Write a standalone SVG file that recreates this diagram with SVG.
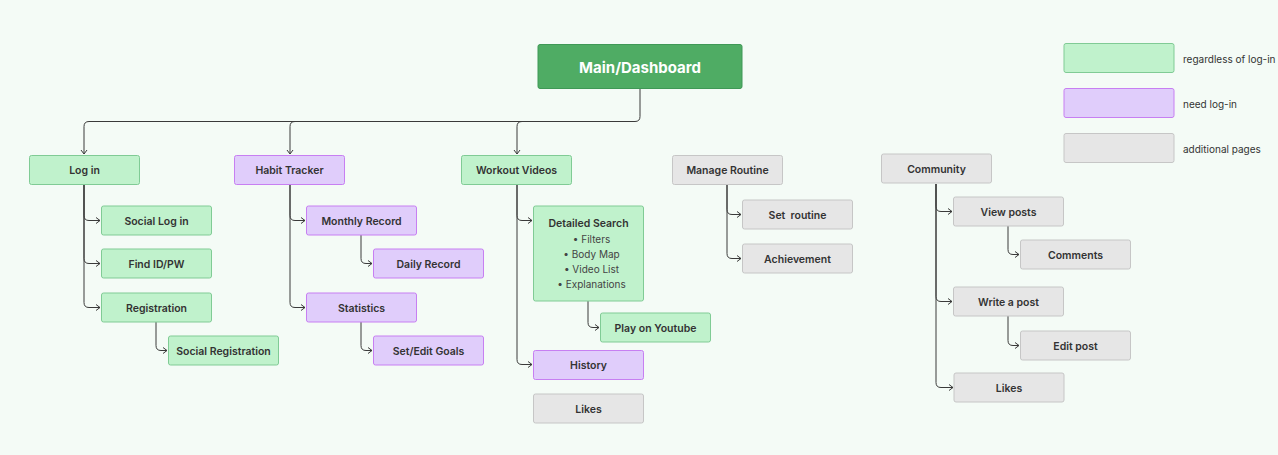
<svg xmlns="http://www.w3.org/2000/svg" width="1278" height="455" viewBox="0 0 1278 455">
<defs>
<style>
.bg{fill:#f4fbf6}
.g rect{fill:#c0f2cc;stroke:#80cb95;stroke-width:1}
.p rect{fill:#e0cdfb;stroke:#c77ff2;stroke-width:1}
.a rect{fill:#e6e6e6;stroke:#c6c6c6;stroke-width:1}
.m rect{fill:#4fac64;stroke:#3f9856;stroke-width:1}
text{font-family:Inter,"Noto Sans","Liberation Sans",sans-serif;text-anchor:middle;dominant-baseline:central}
.n text{font-size:10.5px;font-weight:600;fill:#333}
.m text{font-size:15px;font-weight:700;fill:#fff}
.n text.b{font-size:10px;font-weight:400;fill:#444}
.l{font-size:10px;font-weight:400;fill:#333;text-anchor:start}
#connectors path{fill:none;stroke:#3a3a3a;stroke-width:1}
</style>
<marker id="ar" markerWidth="8" markerHeight="8" refX="5" refY="4" orient="auto" markerUnits="userSpaceOnUse">
<path d="M1,1 L5,4 L1,7" fill="none" stroke="#3a3a3a" stroke-width="1"/>
</marker>
</defs>
<rect class="bg" x="0" y="0" width="1278" height="455"/>

<g id="connectors">
<path d="M640,89 V116.5 Q640,121.5 635,121.5 H89 Q84,121.5 84,126.5 V154" marker-end="url(#ar)"/>
<path d="M295,121.5 Q290,121.5 290,126.5 V154" marker-end="url(#ar)"/>
<path d="M522,121.5 Q517,121.5 517,126.5 V154" marker-end="url(#ar)"/>
<path d="M84,185 V215.5 Q84,220.5 89,220.5 H100" marker-end="url(#ar)"/>
<path d="M84,185 V258.5 Q84,263.5 89,263.5 H100" marker-end="url(#ar)"/>
<path d="M84,185 V302.5 Q84,307.5 89,307.5 H100" marker-end="url(#ar)"/>
<path d="M156,322 V345.5 Q156,350.5 161,350.5 H167" marker-end="url(#ar)"/>
<path d="M290,185 V215.5 Q290,220.5 295,220.5 H305" marker-end="url(#ar)"/>
<path d="M290,185 V302.5 Q290,307.5 295,307.5 H305" marker-end="url(#ar)"/>
<path d="M361,235 V258.5 Q361,263.5 366,263.5 H372" marker-end="url(#ar)"/>
<path d="M361,322 V345.5 Q361,350.5 366,350.5 H372" marker-end="url(#ar)"/>
<path d="M517,185 V215.5 Q517,220.5 522,220.5 H532" marker-end="url(#ar)"/>
<path d="M517,185 V359.5 Q517,364.5 522,364.5 H532" marker-end="url(#ar)"/>
<path d="M588,301 V322.5 Q588,327.5 593,327.5 H599" marker-end="url(#ar)"/>
<path d="M727,185 V209.5 Q727,214.5 732,214.5 H741" marker-end="url(#ar)"/>
<path d="M727,185 V253.5 Q727,258.5 732,258.5 H741" marker-end="url(#ar)"/>
<path d="M936,184 V206.5 Q936,211.5 941,211.5 H952" marker-end="url(#ar)"/>
<path d="M936,184 V296.5 Q936,301.5 941,301.5 H952" marker-end="url(#ar)"/>
<path d="M936,184 V382.5 Q936,387.5 941,387.5 H953" marker-end="url(#ar)"/>
<path d="M1008,226 V249.5 Q1008,254.5 1013,254.5 H1019" marker-end="url(#ar)"/>
<path d="M1008,316 V340.5 Q1008,345.5 1013,345.5 H1019" marker-end="url(#ar)"/>
</g>

<g id="main" class="m"><rect x="538" y="44.5" width="204" height="44" rx="2"/><text x="640" y="67">Main/Dashboard</text></g>

<g id="login" class="n g"><rect x="29.5" y="155.5" width="110" height="29" rx="2"/><text x="84.5" y="170.5">Log in</text></g>
<g id="social-login" class="n g"><rect x="101.5" y="206" width="110" height="29" rx="2"/><text x="156.5" y="221">Social Log in</text></g>
<g id="find-id" class="n g"><rect x="101.5" y="249" width="110" height="29" rx="2"/><text x="156.5" y="264">Find ID/PW</text></g>
<g id="registration" class="n g"><rect x="101.5" y="293" width="110" height="29" rx="2"/><text x="156.5" y="308">Registration</text></g>
<g id="social-registration" class="n g"><rect x="168.5" y="336" width="110" height="29" rx="2"/><text x="223.5" y="351">Social Registration</text></g>

<g id="habit-tracker" class="n p"><rect x="234.5" y="155.5" width="110" height="29" rx="2"/><text x="289.5" y="170.5">Habit Tracker</text></g>
<g id="monthly-record" class="n p"><rect x="306.5" y="206" width="110" height="29" rx="2"/><text x="361.5" y="221">Monthly Record</text></g>
<g id="daily-record" class="n p"><rect x="373.5" y="249" width="110" height="29" rx="2"/><text x="428.5" y="264">Daily Record</text></g>
<g id="statistics" class="n p"><rect x="306.5" y="293" width="110" height="29" rx="2"/><text x="361.5" y="308">Statistics</text></g>
<g id="set-edit-goals" class="n p"><rect x="373.5" y="336" width="110" height="29" rx="2"/><text x="428.5" y="351">Set/Edit Goals</text></g>

<g id="workout-videos" class="n g"><rect x="461.5" y="155.5" width="110" height="29" rx="2"/><text x="516.5" y="170.5">Workout Videos</text></g>
<g id="detailed-search" class="n g"><rect x="533.5" y="206" width="110" height="95" rx="2"/><text x="588.5" y="223.5">Detailed Search</text>
<text class="b" x="591.5" y="239">•  Filters</text>
<text class="b" x="591.5" y="254">•  Body Map</text>
<text class="b" x="591.5" y="269">•  Video List</text>
<text class="b" x="591.5" y="284">•  Explanations</text></g>
<g id="play-youtube" class="n g"><rect x="600.5" y="313" width="110" height="29" rx="2"/><text x="655.5" y="328">Play on Youtube</text></g>
<g id="history" class="n p"><rect x="533.5" y="350.5" width="110" height="29" rx="2"/><text x="588.5" y="365.5">History</text></g>
<g id="likes-videos" class="n a"><rect x="533.5" y="394" width="110" height="29" rx="2"/><text x="588.5" y="409">Likes</text></g>

<g id="manage-routine" class="n a"><rect x="672.5" y="155.5" width="110" height="29" rx="2"/><text x="727.5" y="170.5">Manage Routine</text></g>
<g id="set-routine" class="n a"><rect x="742.5" y="200" width="110" height="29" rx="2"/><text x="797.5" y="215" xml:space="preserve">Set  routine</text></g>
<g id="achievement" class="n a"><rect x="742.5" y="244" width="110" height="29" rx="2"/><text x="797.5" y="259">Achievement</text></g>

<g id="community" class="n a"><rect x="881.5" y="154" width="110" height="29" rx="2"/><text x="936.5" y="169">Community</text></g>
<g id="view-posts" class="n a"><rect x="953.5" y="197" width="110" height="29" rx="2"/><text x="1008.5" y="212">View posts</text></g>
<g id="comments" class="n a"><rect x="1020.5" y="240" width="110" height="29" rx="2"/><text x="1075.5" y="255">Comments</text></g>
<g id="write-post" class="n a"><rect x="953.5" y="287" width="110" height="29" rx="2"/><text x="1008.5" y="302">Write a post</text></g>
<g id="edit-post" class="n a"><rect x="1020.5" y="331" width="110" height="29" rx="2"/><text x="1075.5" y="346">Edit post</text></g>
<g id="likes-community" class="n a"><rect x="954" y="373" width="110" height="29" rx="2"/><text x="1009" y="388">Likes</text></g>

<g id="legend-green" class="g"><rect x="1064" y="43.5" width="110" height="29" rx="2"/><text class="l" x="1183" y="58.5">regardless of log-in</text></g>
<g id="legend-purple" class="p"><rect x="1064" y="88.5" width="110" height="29" rx="2"/><text class="l" x="1183" y="103.5">need log-in</text></g>
<g id="legend-gray" class="a"><rect x="1064" y="133.5" width="110" height="29" rx="2"/><text class="l" x="1183" y="148.5">additional pages</text></g>
</svg>
